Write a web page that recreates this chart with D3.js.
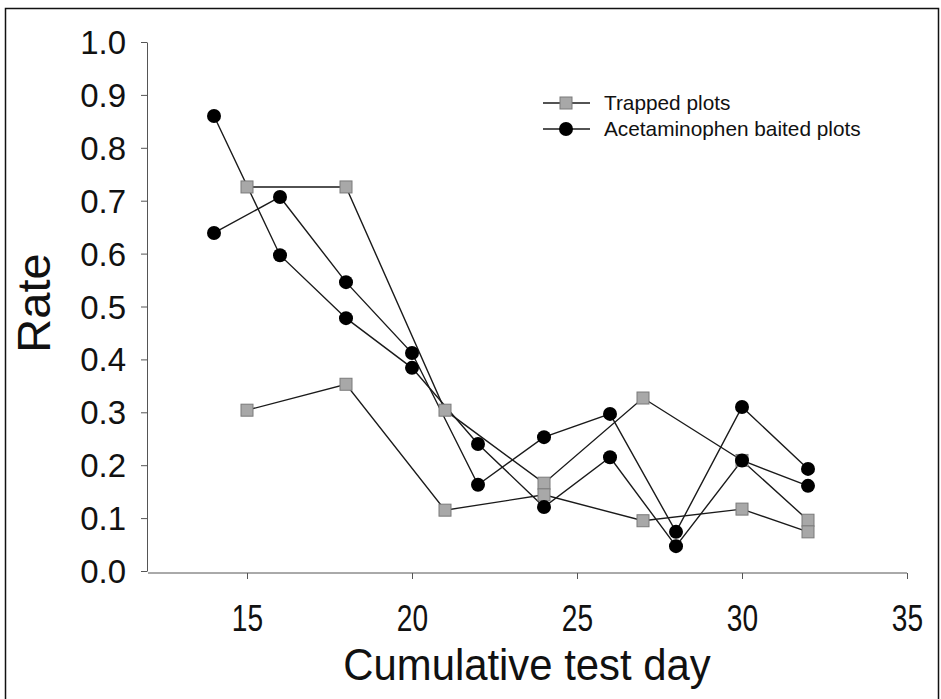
<!DOCTYPE html>
<html><head><meta charset="utf-8">
<script src="https://cdn.jsdelivr.net/npm/d3@7"></script>
<style>body{margin:0;background:#fff;}svg{display:block;font-family:"Liberation Sans",Arial,sans-serif;}</style>
</head><body><svg id="c" width="941" height="699"></svg>
<script>
// Data
const trappedDays = [15, 18, 21, 24, 27, 30, 32];
const trappedA = [0.726, 0.726, 0.304, 0.166, 0.327, 0.209, 0.096];
const trappedB = [0.304, 0.353, 0.115, 0.144, 0.095, 0.117, 0.074];
const baitDays = [14, 16, 18, 20, 22, 24, 26, 28, 30, 32];
const baitA = [0.860, 0.597, 0.478, 0.384, 0.240, 0.121, 0.215, 0.047, 0.209, 0.161];
const baitB = [0.639, 0.707, 0.546, 0.412, 0.163, 0.253, 0.297, 0.074, 0.310, 0.193];
const xTicks = [15, 20, 25, 30, 35];
const yTicks = [0, 0.1, 0.2, 0.3, 0.4, 0.5, 0.6, 0.7, 0.8, 0.9, 1.0];
const legendLabels = ["Trapped plots", "Acetaminophen baited plots"];

const FONT = '"Liberation Sans",Arial,sans-serif';
const svg = d3.select("#c");
// frame
svg.append("path").attr("d", "M5.5,699 V8.5 H938.5 V699").attr("fill", "none").attr("stroke", "#111").attr("stroke-width", 1.5);

const x = d3.scaleLinear().domain([12, 35]).range([148, 907]);
const y = d3.scaleLinear().domain([0, 1]).range([571, 42]);

const axisColor = "#555";
const gx = svg.append("g").attr("transform", "translate(0,573)")
  .call(d3.axisBottom(x).tickValues(xTicks).tickSize(6).tickSizeOuter(0).tickFormat(d3.format("d")));
gx.select(".domain").attr("stroke", axisColor).attr("d", "M148,0H907");
gx.selectAll(".tick line").attr("stroke", axisColor);
gx.selectAll(".tick text").attr("font-size", 37).attr("fill", "#111").attr("y", 0).attr("dy", null)
  .attr("transform", "translate(0,58) scale(0.76,1)").attr("font-family", FONT);

const gy = svg.append("g").attr("transform", "translate(147,0)")
  .call(d3.axisLeft(y).tickValues(yTicks).tickSize(6).tickSizeOuter(0).tickFormat(d3.format(".1f")));
gy.select(".domain").attr("stroke", axisColor);
gy.selectAll(".tick line").attr("stroke", axisColor);
gy.selectAll(".tick text").attr("font-size", 33).attr("fill", "#111").attr("x", -21).attr("dy", "0.35em").attr("font-family", FONT);

svg.append("text").attr("transform", "translate(50,303) rotate(-90)").attr("text-anchor", "middle")
  .attr("font-size", 47).attr("fill", "#111").text("Rate");
svg.append("text").attr("transform", "translate(527,680) scale(0.93,1)").attr("text-anchor", "middle")
  .attr("font-size", 45).attr("fill", "#111").text("Cumulative test day");

const line = d3.line().x(d => x(d[0])).y(d => y(d[1]));
const zip = (xs, ys) => xs.map((v, i) => [v, ys[i]]);

const series = [
  {pts: zip(trappedDays, trappedA), kind: "s"},
  {pts: zip(trappedDays, trappedB), kind: "s"},
  {pts: zip(baitDays, baitA), kind: "c"},
  {pts: zip(baitDays, baitB), kind: "c"}
];
series.forEach(s => {
  svg.append("path").attr("d", line(s.pts)).attr("fill", "none").attr("stroke", "#1a1a1a").attr("stroke-width", 1.4);
});
function drawMarker(g, kind, cx, cy) {
  if (kind === "c") g.append("circle").attr("cx", cx).attr("cy", cy).attr("r", 7).attr("fill", "#000");
  else g.append("rect").attr("x", cx - 6).attr("y", cy - 6).attr("width", 12).attr("height", 12)
    .attr("fill", "#a8a8a8").attr("stroke", "#7a7a7a").attr("stroke-width", 1);
}
series.forEach(s => {
  const g = svg.append("g");
  s.pts.forEach(p => drawMarker(g, s.kind, x(p[0]), y(p[1])));
});

// legend
const lg = svg.append("g");
[["s", 103], ["c", 129]].forEach((e, i) => {
  lg.append("line").attr("x1", 543).attr("x2", 590).attr("y1", e[1]).attr("y2", e[1]).attr("stroke", "#1a1a1a").attr("stroke-width", 1.4);
  drawMarker(lg, e[0], 566, e[1]);
  lg.append("text").attr("x", 604).attr("y", e[1] + 7).attr("font-size", 20.8).attr("fill", "#111").text(legendLabels[i]);
});
</script></body></html>
